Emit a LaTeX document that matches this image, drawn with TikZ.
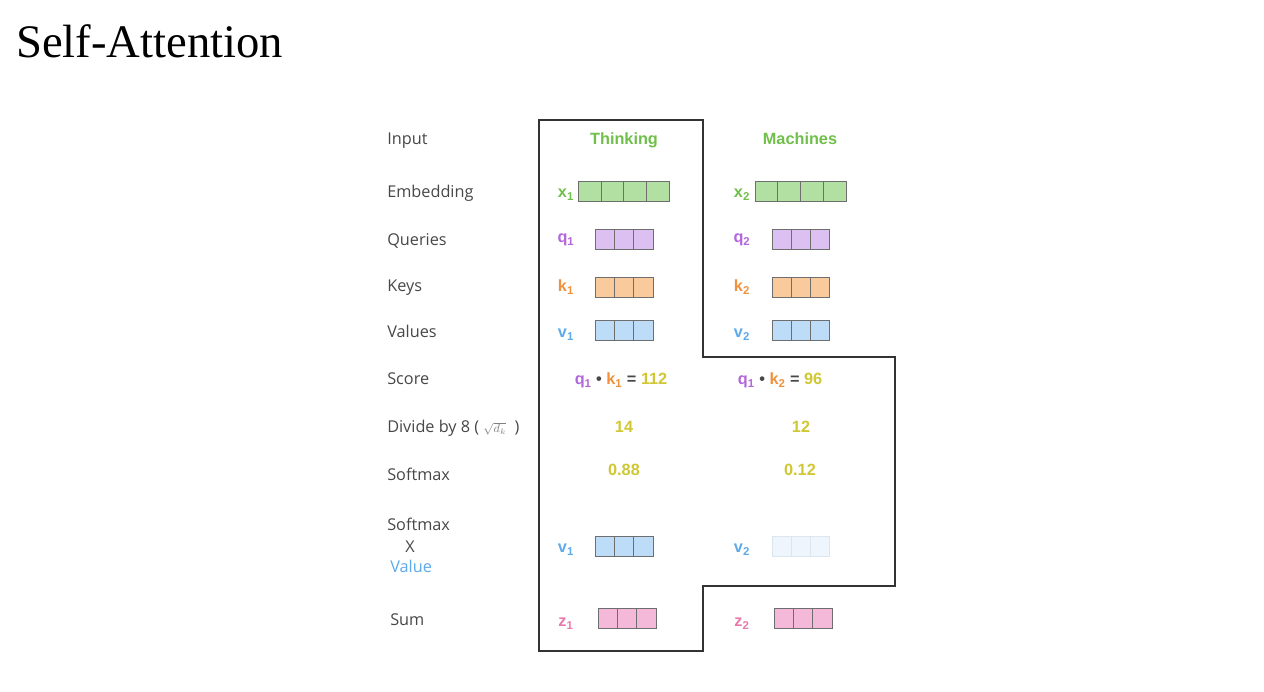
\documentclass[tikz,border=0pt]{standalone}
\usepackage{fontspec}
\setmainfont{Liberation Serif}
\newfontfamily\lblfont{Open Sans}
\newfontfamily\vecfont{Liberation Sans}
\usetikzlibrary{positioning}

\definecolor{labelgray}{HTML}{474747}
\definecolor{linegray}{HTML}{333333}
\definecolor{cellgray}{HTML}{6E6E6E}
\definecolor{wordgreen}{HTML}{6FBF4A}
\definecolor{embfill}{HTML}{B2DFA2}
\definecolor{qtext}{HTML}{B266DB}
\definecolor{qfill}{HTML}{DDC0F2}
\definecolor{ktext}{HTML}{F0913D}
\definecolor{kfill}{HTML}{F9CB9C}
\definecolor{vtext}{HTML}{5DA9EA}
\definecolor{vfill}{HTML}{BCDCF7}
\definecolor{ztext}{HTML}{E879AB}
\definecolor{zfill}{HTML}{F4B8D9}
\definecolor{numcol}{HTML}{CFC733}
\definecolor{fadefill}{HTML}{EEF5FC}
\definecolor{fadeline}{HTML}{DCE6EE}

\tikzset{
  rowlabel/.style={
    anchor=west,
    inner sep=0pt,
    text height=8.8pt,
    text depth=0pt,
    font=\lblfont\fontsize{12.2}{14}\selectfont,
    text=labelgray
    },
  vecname/.style={
    inner sep=0pt,
    text height=8.6pt,
    text depth=0pt,
    font=\vecfont\bfseries\fontsize{12.2}{14}\selectfont
    },
  cell/.style={
    draw=cellgray,
    line width=0.6pt,
    inner sep=0pt,
    outer sep=0pt,
    minimum height=15pt
    },
  outline/.style={draw=linegray, line width=0.8pt},
}

% one vector as a row of cells: name, left x, centre y, cells, cell width (px), look
\newcommand{\vecrow}[6]{%
  \foreach \i in {1,...,#4}
    \node[cell, minimum width=#5*0.75pt, #6] (#1-\i) at ({#2+(\i-0.5)*#5}, #3) {};
}

\begin{document}
\begin{tikzpicture}[x=0.75pt, y=-0.75pt]
  \useasboundingbox (0,0) rectangle (1264,692);

  \node[anchor=base west, inner sep=0pt, font=\fontsize{35}{40}\selectfont] (title) at (16,58) {Self-Attention};

  % frame round the first word
  \draw[outline] (539,120) -- (703,120) -- (703,357) -- (895,357) -- (895,586)
    -- (703,586) -- (703,651) -- (539,651) -- cycle;

  % row labels
  \node[rowlabel] (lin) at (387,139) {Input};
  \node[rowlabel] (lemb) at (387,192) {Embedding};
  \node[rowlabel] (lq) at (387,240) {Queries};
  \node[rowlabel] (lk) at (387,286) {Keys};
  \node[rowlabel] (lv) at (387,332) {Values};
  \node[rowlabel] (lscore) at (387,379) {Score};
  \node[rowlabel] (ldiv) at (387,427) {Divide by 8 ( {\color{gray}\small$\sqrt{d_k}$}\ \ )};
  \node[rowlabel] (lsoft) at (387,475) {Softmax};
  \node[rowlabel] (lsv) at (387,525) {Softmax};
  \node[rowlabel] (lx) at (405,547) {X};
  \node[rowlabel, text=vtext] (lval) at (390,567) {Value};
  \node[rowlabel] (lsum) at (390,620) {Sum};

  % words
  \node[vecname, text=wordgreen] (w1) at (624,139) {Thinking};
  \node[vecname, text=wordgreen] (w2) at (800,139) {Machines};

  % first column
  \node[vecname, text=wordgreen] (x1) at (566,192) {x\textsubscript{1}};
  \vecrow{x1v}{578}{191}{4}{22.9}{fill=embfill}
  \node[vecname, text=qtext] (q1) at (566,237) {q\textsubscript{1}};
  \vecrow{q1v}{595}{239}{3}{19.33}{fill=qfill}
  \node[vecname, text=ktext] (k1) at (566,286) {k\textsubscript{1}};
  \vecrow{k1v}{595}{287}{3}{19.33}{fill=kfill}
  \node[vecname, text=vtext] (v1) at (566,332) {v\textsubscript{1}};
  \vecrow{v1v}{595}{330}{3}{19.33}{fill=vfill}
  \node[vecname] (s1) at (621,379) {\textcolor{qtext}{q\textsubscript{1}} \textcolor{labelgray}{•} \textcolor{ktext}{k\textsubscript{1}} \textcolor{labelgray}{=} \textcolor{numcol}{112}};
  \node[vecname, text=numcol] (d1) at (624,427) {14};
  \node[vecname, text=numcol] (p1) at (624,470) {0.88};
  \node[vecname, text=vtext] (sv1) at (566,547) {v\textsubscript{1}};
  \vecrow{sv1v}{595}{546}{3}{19.33}{fill=vfill}
  \node[vecname, text=ztext] (z1) at (566,621) {z\textsubscript{1}};
  \vecrow{z1v}{598}{618}{3}{19.33}{fill=zfill}

  % second column
  \node[vecname, text=wordgreen] (x2) at (742,192) {x\textsubscript{2}};
  \vecrow{x2v}{755}{191}{4}{22.75}{fill=embfill}
  \node[vecname, text=qtext] (q2) at (742,237) {q\textsubscript{2}};
  \vecrow{q2v}{772}{239}{3}{19.0}{fill=qfill}
  \node[vecname, text=ktext] (k2) at (742,286) {k\textsubscript{2}};
  \vecrow{k2v}{772}{287}{3}{19.0}{fill=kfill}
  \node[vecname, text=vtext] (v2) at (742,332) {v\textsubscript{2}};
  \vecrow{v2v}{772}{330}{3}{19.0}{fill=vfill}
  \node[vecname] (s2) at (780,379) {\textcolor{qtext}{q\textsubscript{1}} \textcolor{labelgray}{•} \textcolor{ktext}{k\textsubscript{2}} \textcolor{labelgray}{=} \textcolor{numcol}{96}};
  \node[vecname, text=numcol] (d2) at (801,427) {12};
  \node[vecname, text=numcol] (p2) at (800,470) {0.12};
  \node[vecname, text=vtext] (sv2) at (742,547) {v\textsubscript{2}};
  \vecrow{sv2v}{772}{546}{3}{19.0}{fill=fadefill, draw=fadeline}
  \node[vecname, text=ztext] (z2) at (742,621) {z\textsubscript{2}};
  \vecrow{z2v}{774}{618}{3}{19.33}{fill=zfill}
\end{tikzpicture}
\end{document}
